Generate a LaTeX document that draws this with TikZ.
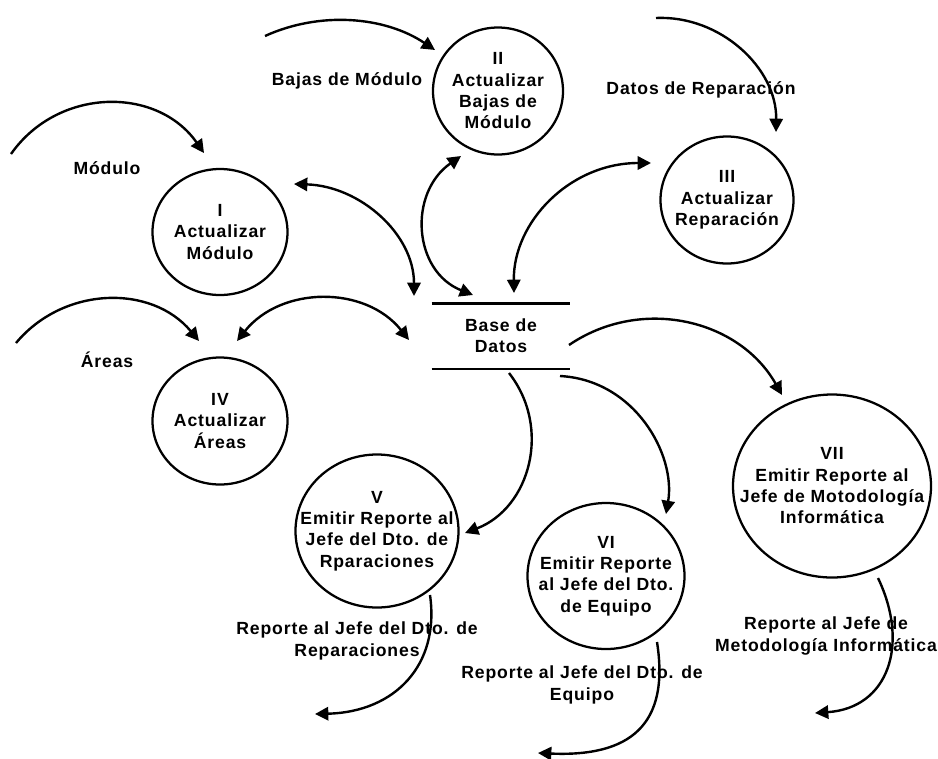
\documentclass[tikz,border=0pt]{standalone}
\usepackage{fontspec}
\setmainfont{Liberation Sans}[LetterSpace=5]
\usetikzlibrary{arrows.meta,shapes.geometric}

\begin{document}
\begin{tikzpicture}[x=0.75pt,y=-0.75pt,
  txt/.style={font=\bfseries\fontsize{13.2pt}{16pt}\selectfont, align=center, inner sep=0pt},
  proc/.style={ellipse, draw, line width=1.7pt, inner sep=0pt},
  flow/.style={line width=1.8pt, -{Triangle[length=10pt,width=10pt]}},
  dflow/.style={line width=1.8pt, {Triangle[length=10pt,width=10pt]}-{Triangle[length=10pt,width=10pt]}},
  store/.style={line width=1.9pt}
]
\useasboundingbox (0,0) rectangle (938,758);

% processes
\node[proc, minimum width=101.25pt, minimum height=94.5pt,
  label={[txt]center:{I\\Actualizar\\Módulo}}] (p1) at (220,232) {};
\node[proc, minimum width=97.5pt, minimum height=95.25pt,
  label={[txt]center:{II\\Actualizar\\Bajas de\\Módulo}}] (p2) at (498,91) {};
\node[proc, minimum width=99.75pt, minimum height=95.25pt,
  label={[txt]center:{III\\Actualizar\\Reparación}}] (p3) at (727,200) {};
\node[proc, minimum width=101.25pt, minimum height=95.25pt,
  label={[txt]center:{IV\\Actualizar\\Áreas}}] (p4) at (220,421) {};
\node[proc, minimum width=122.25pt, minimum height=114.75pt,
  label={[txt]center:{V\\Emitir Reporte al\\Jefe del Dto. de\\Rparaciones}}] (p5) at (377,531) {};
\node[proc, minimum width=117.75pt, minimum height=109.5pt,
  label={[txt]center:{VI\\Emitir Reporte\\al Jefe del Dto.\\de Equipo}}] (p6) at (606,576) {};
\node[proc, minimum width=148.5pt, minimum height=137.25pt,
  label={[txt]center:{VII\\Emitir Reporte al\\Jefe de Motodología\\Informática}}] (p7) at (832,486) {};

% data store
\node[txt, minimum width=103.5pt, minimum height=48.75pt] (db) at (501,336) {Base de\\Datos};
\draw[store] (db.north west) -- (db.north east);
\draw[store] (db.south west) -- (db.south east);

% flow labels
\node[txt] (lmod) at (107,168) {Módulo};
\node[txt] (lbaj) at (347,81) {Bajas de Módulo};
\node[txt] (lrep) at (701,90) {Datos de Reparación};
\node[txt] (lare) at (107,360) {Áreas};
\node[txt] (lr5) at (357,641) {Reporte al Jefe del Dto. de\\Reparaciones};
\node[txt] (lr6) at (582,685) {Reporte al Jefe del Dto. de\\Equipo};
\node[txt] (lr7) at (826,636) {Reporte al Jefe de\\Metodología Informática};

% flow end points
\coordinate (m-s) at (11,154);   \coordinate (m-e) at (204,153);
\coordinate (b-s) at (265,36);   \coordinate (b-e) at (435,50);
\coordinate (r-s) at (656,18);   \coordinate (r-e) at (776,132);
\coordinate (a-s) at (16,343);   \coordinate (a-e) at (199,341);
\coordinate (i-db) at (294,184); \coordinate (db-i) at (414,296);
\coordinate (ii-db) at (461,156); \coordinate (db-ii) at (473,295);
\coordinate (iii-db) at (651,163); \coordinate (db-iii) at (514,293);
\coordinate (iv-db) at (237,341); \coordinate (db-iv) at (409,340);
\coordinate (db-v) at (509,373); \coordinate (v-in) at (465,533);
\coordinate (db-vi) at (560,376); \coordinate (vi-in) at (666,514);
\coordinate (db-vii) at (569,345); \coordinate (vii-in) at (782,395);
\coordinate (v-out) at (430,595); \coordinate (v-end) at (315,714);
\coordinate (vi-out) at (657,642); \coordinate (vi-end) at (538,753);
\coordinate (vii-out) at (878,578); \coordinate (vii-end) at (815,713);

% incoming data
\draw[flow] (m-s) .. controls (58,87) and (157,86) .. (m-e);
\draw[flow] (b-s) .. controls (320,11) and (384.5,16.3) .. (b-e);
\draw[flow] (r-s) .. controls (720,15) and (777,68) .. (r-e);
\draw[flow] (a-s) .. controls (63.5,286) and (151.5,284) .. (a-e);

% exchanges with the data store
\draw[dflow] (i-db) .. controls (360,186) and (414,234) .. (db-i);
\draw[dflow] (ii-db) .. controls (408,193) and (413,271) .. (db-ii);
\draw[dflow] (iii-db) .. controls (570,163) and (513,222) .. (db-iii);
\draw[dflow] (iv-db) .. controls (281,286) and (365,285) .. (db-iv);

% reports
\draw[flow] (db-v) .. controls (552,428) and (530,508) .. (v-in);
\draw[flow] (db-vi) .. controls (635,380) and (676,455) .. (vi-in);
\draw[flow] (db-vii) .. controls (641,296) and (739,319) .. (vii-in);
\draw[flow] (v-out) .. controls (440,665) and (395,712) .. (v-end);
\draw[flow] (vi-out) .. controls (670,725) and (630,757) .. (vi-end);
\draw[flow] (vii-out) .. controls (910,645) and (888,708) .. (vii-end);
\end{tikzpicture}
\end{document}
